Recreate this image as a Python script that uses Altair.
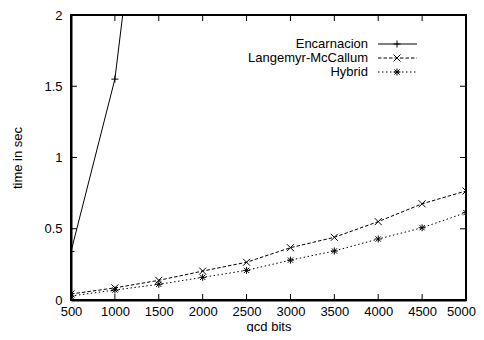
import altair as alt
import pandas as pd

# ---- data ----
series_names = ["Encarnacion", "Langemyr-McCallum", "Hybrid"]
bits = [500, 1000, 1500, 2000, 2500, 3000, 3500, 4000, 4500, 5000]
enc_bits = [500, 1000, 1500]
enc_time = [0.34, 1.55, 4.08]
lm_time = [0.042, 0.085, 0.138, 0.203, 0.265, 0.367, 0.44, 0.55, 0.675, 0.765]
hy_time = [0.028, 0.07, 0.11, 0.159, 0.208, 0.28, 0.344, 0.428, 0.507, 0.613]
x_ticks = [500, 1000, 1500, 2000, 2500, 3000, 3500, 4000, 4500, 5000]
y_ticks = [0, 0.5, 1, 1.5, 2]

W, H = 395, 285
FONT = "Liberation Sans"
FS = 13
TICK = 6

PLUS = "M-1,0L1,0M0,-1L0,1"
CROSS = "M-1,-1L1,1M-1,1L1,-1"
STAR = "M-1,0L1,0M0,-1L0,1M-0.75,-0.75L0.75,0.75M-0.75,0.75L0.75,-0.75"

xs = alt.Scale(domain=[500, 5000], nice=False, zero=False)
ys = alt.Scale(domain=[0, 2], nice=False, zero=False)

enc_df = pd.DataFrame({"bits": enc_bits, "time": enc_time})
lm_df = pd.DataFrame({"bits": bits, "time": lm_time})
hy_df = pd.DataFrame({"bits": bits, "time": hy_time})

xax = alt.Axis(values=x_ticks, format="d", tickSize=0, domain=True, domainColor="black",
               domainWidth=2, grid=False,
               labelPadding=5, labelFont=FONT, labelFontSize=FS, labelColor="black",
               labelOffset={"condition": {"test": "datum.value === 5000", "value": -5},
                            "value": 0},
               title="gcd bits", titleFont=FONT, titleFontSize=FS, titleFontWeight="normal",
               titleColor="black", titleX=W / 2, titleY=30, titleBaseline="alphabetic",
               labelFlush=False, labelOverlap=False)
yax = alt.Axis(values=y_ticks, format="~g", tickSize=0, domain=True, domainColor="black",
               domainWidth=2, grid=False,
               labelPadding=9, labelFont=FONT, labelFontSize=FS, labelColor="black",
               title="time in sec", titleFont=FONT, titleFontSize=FS, titleFontWeight="normal",
               titleColor="black", titleX=-54, titleY=H / 2, titleAngle=270,
               titleAlign="center", titleBaseline="middle", labelFlush=False)

X = alt.X("bits:Q", scale=xs, axis=xax)
Y = alt.Y("time:Q", scale=ys, axis=yax)


def series(df, dash, shape):
    base = alt.Chart(df)
    ln = base.mark_line(color="black", strokeWidth=1, clip=True,
                        **({"strokeDash": dash} if dash else {})).encode(x=X, y=Y)
    pt = base.mark_point(shape=shape, size=49, filled=False, stroke="black",
                         strokeWidth=1, opacity=1, clip=True).encode(x=X, y=Y)
    return [ln, pt]


layers = []
layers += series(enc_df, None, PLUS)
layers += series(lm_df, [3.5, 2], CROSS)
layers += series(hy_df, [1.5, 2.5], STAR)

# inward ticks on all four sides (mirrored, gnuplot style)
xt = pd.DataFrame({"bits": x_ticks})
yt = pd.DataFrame({"time": y_ticks})
layers.append(alt.Chart(xt).mark_rule(color="black", strokeWidth=1).encode(
    x=X, y=alt.value(H), y2=alt.value(H - TICK)))
layers.append(alt.Chart(xt).mark_rule(color="black", strokeWidth=1).encode(
    x=X, y=alt.value(0), y2=alt.value(TICK)))
layers.append(alt.Chart(yt).mark_rule(color="black", strokeWidth=1).encode(
    y=Y, x=alt.value(0), x2=alt.value(TICK)))
layers.append(alt.Chart(yt).mark_rule(color="black", strokeWidth=1).encode(
    y=Y, x=alt.value(W - TICK), x2=alt.value(W)))

# legend (inside, top right)
styles = [(None, PLUS), ([3.5, 2], CROSS), ([1.5, 2.5], STAR)]
for i, name in enumerate(series_names):
    ly = 29 + 14 * i
    d = pd.DataFrame({"s": [name]})
    layers.append(alt.Chart(d).mark_text(align="right", baseline="middle", font=FONT,
                                         fontSize=FS, color="black").encode(
        text="s:N", x=alt.value(297), y=alt.value(ly)))
    dash, shape = styles[i]
    kw = {"strokeDash": dash} if dash else {}
    layers.append(alt.Chart(d).mark_rule(color="black", strokeWidth=1, **kw).encode(
        x=alt.value(307), x2=alt.value(346), y=alt.value(ly)))
    layers.append(alt.Chart(d).mark_point(shape=shape, size=49, filled=False, stroke="black",
                                          strokeWidth=1, opacity=1).encode(
        x=alt.value(326), y=alt.value(ly)))

chart = alt.layer(*layers).properties(
    width=W, height=H,
    autosize=alt.AutoSizeParams(type="none"),
    padding={"left": 63, "top": 7, "right": 10, "bottom": 32},
    background="white",
).configure_view(stroke="black", strokeWidth=2)

chart.save("out.html", embed_options={"renderer": "svg", "actions": False})
